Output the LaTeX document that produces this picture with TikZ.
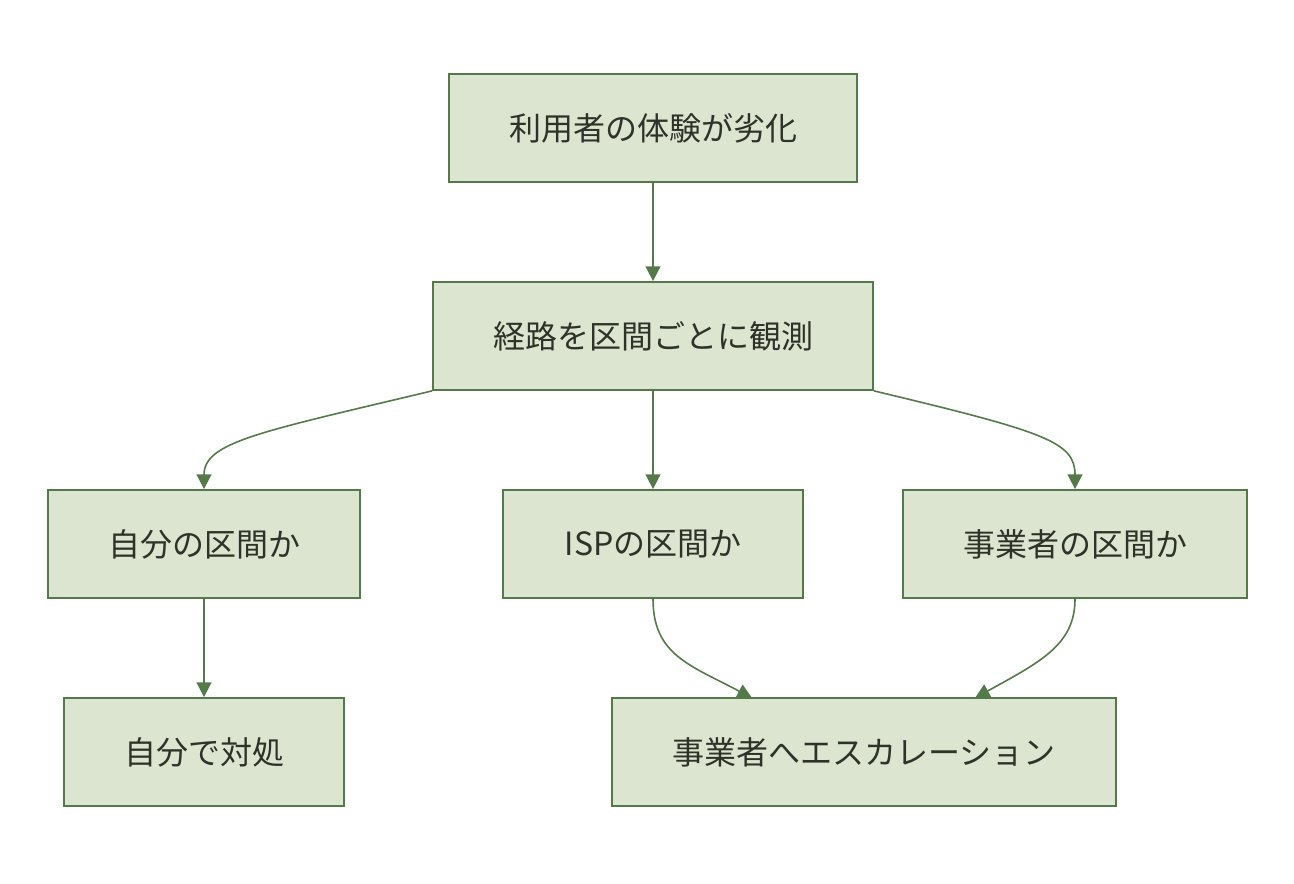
\documentclass[tikz,border=0pt]{standalone}
\usepackage{fontspec}
\setmainfont{Noto Sans CJK JP}
\usepackage{tikz}
\usetikzlibrary{arrows.meta, positioning}
\definecolor{boxFill}{HTML}{DCE5CF}
\definecolor{boxLine}{HTML}{557A4A}
\definecolor{boxText}{HTML}{2E3329}

\begin{document}
\begin{tikzpicture}[
  x=0.75pt, y=-0.75pt,
  flowbox/.style={rectangle, draw=boxLine, fill=boxFill, line width=1.3pt,
                  minimum height=81pt, inner sep=0pt, text=boxText,
                  font=\fontsize{24}{29}\selectfont},
  arrow/.style={-{Triangle[length=11pt, width=11pt]}, draw=boxLine, line width=1.2pt}
]
  \useasboundingbox (0,0) rectangle (1294,884);

  % 観測の流れ
  \node[flowbox, minimum width=306pt] (degrade) at (653,128) {利用者の体験が劣化};
  \node[flowbox, minimum width=330pt] (observe) at (653,336) {経路を区間ごとに観測};

  % 区間の切り分け
  \node[flowbox, minimum width=234pt] (own)     at (204,544)  {自分の区間か};
  \node[flowbox, minimum width=225pt] (isp)     at (653,544)  {ISPの区間か};
  \node[flowbox, minimum width=258pt] (carrier) at (1075,544) {事業者の区間か};

  % 対応
  \node[flowbox, minimum width=210pt] (fixself)  at (204,752) {自分で対処};
  \node[flowbox, minimum width=378pt] (escalate) at (864,752) {事業者へエスカレーション};

  % 矢印
  \draw[arrow] (degrade) -- (observe);
  \draw[arrow] (observe.south west) .. controls (260,432) and (204,442) .. (own.north);
  \draw[arrow] (observe) -- (isp);
  \draw[arrow] (observe.south east) .. controls (1046,432) and (1075,442) .. (carrier.north);
  \draw[arrow] (own) -- (fixself);
  \draw[arrow] (isp.south) .. controls (653,655) and (690,665) .. (752,698);
  \draw[arrow] (carrier.south) .. controls (1075,645) and (1040,662) .. (975,698);
\end{tikzpicture}
\end{document}
